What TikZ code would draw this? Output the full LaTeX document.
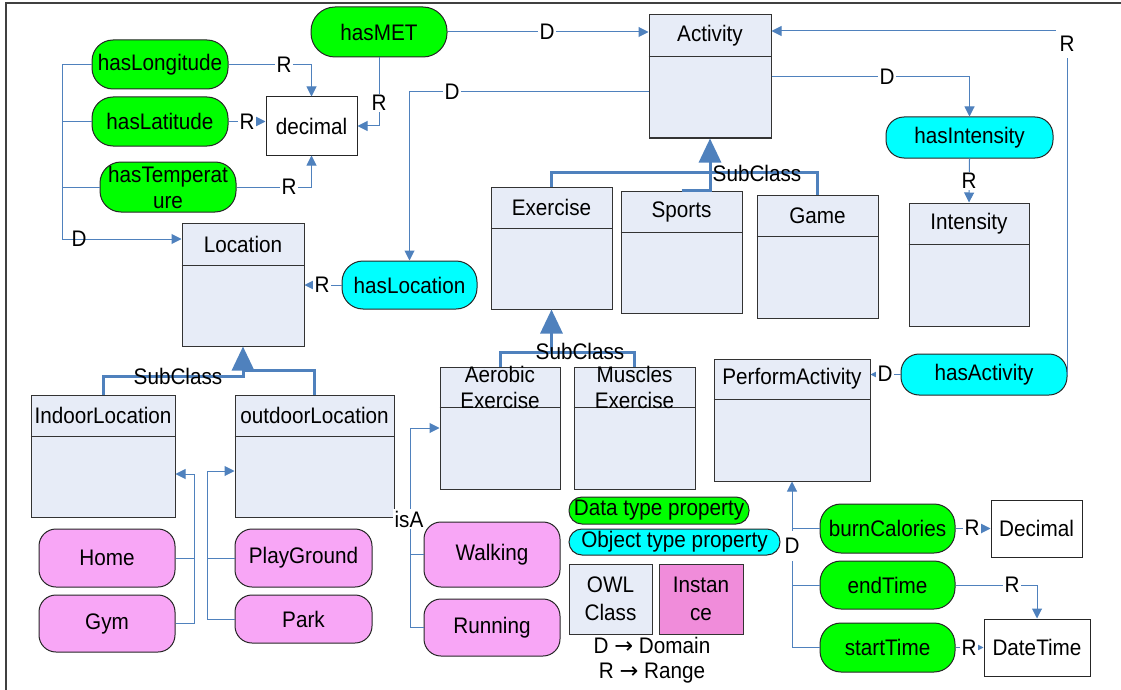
\documentclass[tikz,border=0pt]{standalone}
\usepackage{fontspec}
\setmainfont{Liberation Sans}[FakeStretch=0.92]
\newfontfamily\arrowfont{DejaVu Sans}
\usetikzlibrary{arrows.meta}
\definecolor{connc}{RGB}{79,129,189}
\definecolor{clsfill}{RGB}{231,236,247}
\definecolor{dtgreen}{RGB}{0,255,0}
\definecolor{obcyan}{RGB}{0,255,255}
\definecolor{instpink}{RGB}{248,166,246}
\definecolor{instleg}{RGB}{240,140,218}
% #1 name, #2 style, #3 x1, #4 y1, #5 x2, #6 y2, #7 text
\newcommand\pillnode[7]{%
  \node[#2, minimum width={#5pt-#3pt}, minimum height={#6pt-#4pt}] (#1) at ({(#3+#5)/2},{(#4+#6)/2}) {#7};}
% #1 name, #2 x1, #3 y1, #4 x2, #5 y2, #6 divider y, #7 text
\newcommand\classnode[7]{%
  \node[cls, minimum width={#4pt-#2pt}, minimum height={#5pt-#3pt}] (#1) at ({(#2+#4)/2},{(#3+#5)/2}) {};
  \draw[clsline] (#1.west |- 0,#6) -- (#1.east |- 0,#6);
  \node (#1-t) at ({(#2+#4)/2},{(#3+#6)/2}) {#7};}
\begin{document}
\begin{tikzpicture}[x=1pt,y=-1pt,
  every node/.style={font=\fontsize{22.5}{26}\selectfont, inner sep=0pt, align=center},
  cls/.style={draw=black!80, fill=clsfill, line width=1pt},
  clsline/.style={draw=black!80, line width=1pt},
  pill/.style={draw=black!85, line width=1pt, rounded corners=#1},
  dtp/.style={pill=#1, fill=dtgreen}, dtp/.default=21pt,
  obp/.style={pill=#1, fill=obcyan}, obp/.default=21pt,
  inp/.style={pill=#1, fill=instpink}, inp/.default=17pt,
  legi/.style={draw=black!80, fill=instleg, line width=1pt},
  valbox/.style={draw=black!85, fill=white, line width=1pt},
  conn/.style={draw=connc, line width=1pt, -{Triangle[length=10pt,width=10pt]}},
  plain/.style={draw=connc, line width=1pt},
  sub/.style={draw=connc, line width=3pt},
  subarr/.style={sub, -{Triangle[length=24pt,width=22pt]}},
  lbl/.style={fill=white, inner sep=1.5pt}]
\useasboundingbox (0,0) rectangle (1121,690);
\draw[black!75, line width=2pt] (6,690) -- (6,3) -- (1121,3);

% data / object properties
\pillnode{hasMET}{dtp=24pt}{311}{7}{447}{57}{hasMET}
\pillnode{hasLong}{dtp}{92}{40}{228}{89}{hasLongitude}
\pillnode{hasLat}{dtp}{92}{97}{228}{146}{hasLatitude}
\pillnode{hasTemp}{dtp}{100}{162}{236}{212}{hasTemperat\\ure}
\pillnode{decimal}{valbox}{266}{97}{357}{155}{decimal}

% classes
\classnode{act}{649}{15}{771}{138}{57}{Activity}
\classnode{loc}{182}{223}{304}{346}{265}{Location}
\classnode{exer}{491}{187}{612}{309}{228}{Exercise}
\classnode{sports}{621}{191}{742}{313}{232}{Sports}
\classnode{game}{757}{195}{878}{318}{236}{Game}
\classnode{intens}{909}{203}{1029}{326}{244}{Intensity}
\classnode{aero}{440}{367}{560}{489}{407}{Aerobic\\Exercise}
\classnode{musc}{574}{367}{695}{489}{407}{Muscles\\Exercise}
\classnode{perf}{714}{359}{870}{481}{399}{PerformActivity}
\classnode{indoor}{31}{395}{175}{517}{436}{IndoorLocation}
\classnode{outdoor}{235}{395}{394}{517}{436}{outdoorLocation}

\pillnode{hasInt}{obp=18pt}{886}{117}{1053}{158}{hasIntensity}
\pillnode{hasLoc}{obp}{342}{261}{477}{309}{hasLocation}
\pillnode{hasAct}{obp=18pt}{901}{354}{1067}{395}{hasActivity}
\pillnode{burn}{dtp}{820}{504}{955}{553}{burnCalories}
\pillnode{endT}{dtp}{820}{561}{955}{609}{endTime}
\pillnode{startT}{dtp}{820}{623}{955}{672}{startTime}
\pillnode{Dec}{valbox}{991}{500}{1082}{557}{Decimal}
\pillnode{DT}{valbox}{984}{619}{1090}{676}{DateTime}

% instances
\pillnode{walk}{inp}{424}{522}{560}{587}{Walking}
\pillnode{run}{inp}{424}{599}{560}{656}{Running}
\pillnode{home}{inp}{39}{529}{175}{587}{Home}
\pillnode{gym}{inp}{39}{595}{175}{652}{Gym}
\pillnode{play}{inp}{235}{529}{372}{587}{PlayGround}
\pillnode{park}{inp}{235}{595}{372}{643}{Park}

% legend
\pillnode{legdt}{dtp=13pt}{569}{497}{749}{524}{Data type property}
\pillnode{legob}{obp=13pt}{569}{529}{780}{555}{Object type property}
\pillnode{legcls}{cls, font=\fontsize{22.5}{28}\selectfont}{569}{564}{652}{634}{OWL\\Class}
\pillnode{leginst}{legi, font=\fontsize{22.5}{28}\selectfont}{659}{564}{743}{634}{Instan\\ce}
\node (legD) at (652,645) {D {\arrowfont →} Domain};
\node (legR) at (652,673) {R {\arrowfont →} Range};

% connectors
\draw[conn] (hasMET.east) -- (hasMET.east -| act.west);
\node[lbl] (lD1) at (547,32) {D};

\coordinate (rc) at (1067,31);
\draw[conn] (hasAct.east) -- (hasAct.east |- rc) -- (rc -| act.east);
\node[lbl, minimum width=22pt, minimum height=28pt] (lR1) at (1067,44) {R};

\draw[conn] (act.east |- 0,77) -| (hasInt.north);
\node[lbl] (lD2) at (887,77) {D};
\draw[conn] (hasInt.south) -- (intens.north);
\node[lbl] (lR2) at (969,181) {R};

\draw[conn] (act.west |- 0,92) -| (hasLoc.north);
\node[lbl] (lD3) at (452,92) {D};
\draw[conn] (hasLoc.west) -- (hasLoc.west -| loc.east);
\node[lbl] (lR3) at (322,285) {R};

\draw[conn] (hasLong.east) -| (decimal.north);
\node[lbl] (lR4) at (284,64.5) {R};
\draw[conn] (hasLat.east) -- (hasLat.east -| decimal.west);
\node[lbl] (lR5) at (247,122) {R};
\draw[conn] (hasTemp.east) -| (decimal.south);
\node[lbl] (lR6) at (289,187) {R};
\draw[conn] (hasMET.south) |- (decimal.east);
\node[lbl] (lR7) at (379,103) {R};

\coordinate (dl) at (62,239);
\draw[conn] (hasLong.west) -| (dl) -- (dl -| loc.west);
\draw[plain] (hasLat.west) -| (dl);
\draw[plain] (hasTemp.west) -| (dl);
\node (lD4) at (79,239) {D};

% subclass
\draw[sub] (exer.north) |- (game.north |- 0,172) -- (game.north);
\draw[subarr] (sports.north) -| (act.south);
\node (lS1) at (757,173) {SubClass};

\draw[sub] (aero.north) |- (musc.north |- 0,352) -- (musc.north);
\draw[subarr] (exer.south |- 0,352) -- (exer.south);
\node (lS2) at (580,351) {SubClass};

\draw[subarr] (outdoor.north) |- (loc.south |- 0,370) -- (loc.south);
\draw[sub] (indoor.north) |- (loc.south |- 0,376) -- (loc.south |- 0,368);
\node (lS3) at (178,376) {SubClass};

% instance links
\coordinate (hi) at (194,474);
\draw[conn] (gym.east) -| (hi) -- (hi -| indoor.east);
\draw[plain] (home.east) -- (home.east -| hi);

\coordinate (po) at (207,471);
\draw[conn] (park.west) -| (po) -- (po -| outdoor.west);
\draw[plain] (play.west) -- (play.west -| po);

\coordinate (wa) at (410,428);
\draw[conn] (run.west) -| (wa) -- (wa -| aero.west);
\draw[plain] (walk.west) -- (walk.west -| wa);
\node[lbl] (lisA) at (409,519) {isA};

% perform activity
\draw[conn] (hasAct.west) -- (hasAct.west -| perf.east);
\node[lbl] (lD5) at (885,374) {D};

\draw[conn] (startT.west) -| (perf.south);
\draw[plain] (burn.west) -- (burn.west -| perf.south);
\draw[plain] (endT.west) -- (endT.west -| perf.south);
\node[lbl, minimum height=30pt] (lD6) at (792,546) {D};

\draw[conn] (burn.east) -- (burn.east -| Dec.west);
\node[lbl] (lR8) at (972,528) {R};
\draw[conn] (endT.east) -| (DT.north);
\node[lbl] (lR9) at (1012,585) {R};
\draw[conn] (startT.east) -- (startT.east -| DT.west);
\node[lbl] (lR10) at (969,648) {R};
\end{tikzpicture}
\end{document}
